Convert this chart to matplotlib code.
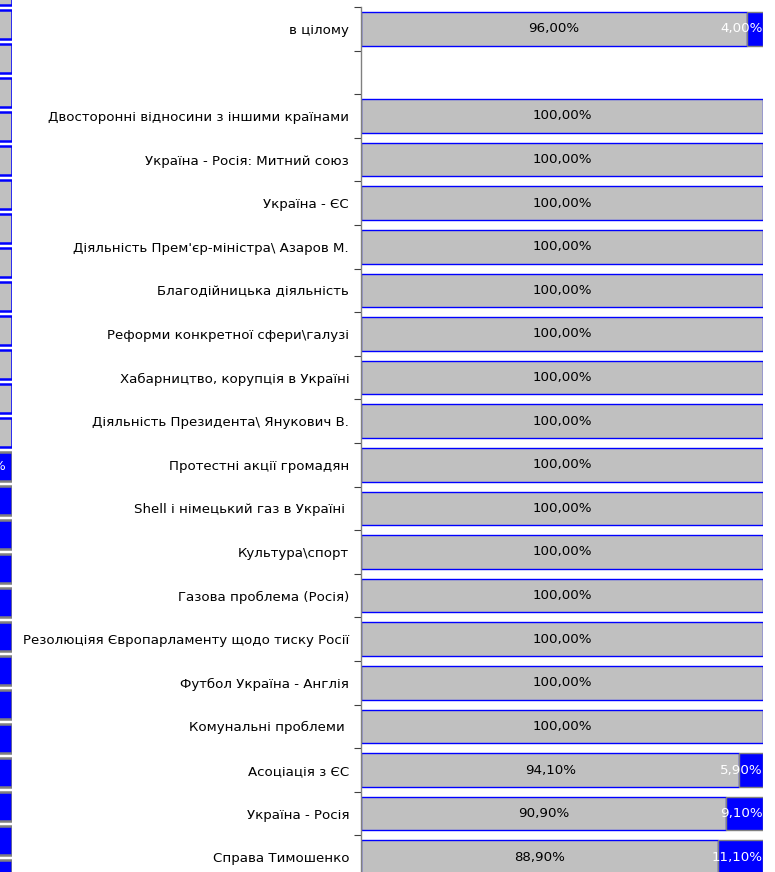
"""
Stacked horizontal bars: share of positive (grey) vs negative (blue) mentions per topic.
Left strip is the clipped right end of a neighbouring chart.
"""

import numpy as np
import matplotlib
matplotlib.use("Agg")
import matplotlib.pyplot as plt

plt.rcParams["font.family"] = ["DejaVu Sans"]

# ── data ─────────────────────────────────────────────────────────────────────
categories = [
    "в цілому",
    "",
    "Двосторонні відносини з іншими країнами",
    "Україна - Росія: Митний союз",
    "Україна - ЄС",
    "Діяльність Прем'єр-міністра\\ Азаров М.",
    "Благодійницька діяльність",
    "Реформи конкретної сфери\\галузі",
    "Хабарництво, корупція в Україні",
    "Діяльність Президента\\ Янукович В.",
    "Протестні акції громадян",
    "Shell і німецький газ в Україні ",
    "Культура\\спорт",
    "Газова проблема (Росія)",
    "Резолюціяя Європарламенту щодо тиску Росії",
    "Футбол Україна - Англія",
    "Комунальні проблеми ",
    "Асоціація з ЄС",
    "Україна - Росія",
    "Справа Тимошенко",
]
grey_vals = [96.0, np.nan] + [100.0] * 15 + [94.1, 90.9, 88.9]
blue_vals = [4.0, np.nan] + [0.0] * 15 + [5.9, 9.1, 11.1]

# neighbouring chart strip: 'g' = grey box, 'b' = blue box
strip_kinds = ["g"] * 14 + ["b"] * 13

GREY = "#C0C0C0"
BLUE = "#0000FF"
EDGE_GREY = "#808080"
LABEL_FS = 9.6
VALUE_FS = 9.6

W, H = 775, 872
fig = plt.figure(figsize=(W / 100, H / 100), dpi=100)

# ── main chart ───────────────────────────────────────────────────────────────
n = len(categories)
ax = fig.add_axes([361 / W, -7 / H, 402 / W, 872 / H])
y = np.arange(n)
grey = np.array(grey_vals)
blue = np.array(blue_vals)

ax.barh(y, grey, height=0.77, color=GREY, edgecolor=BLUE, linewidth=1.0)
ax.barh(y, np.where(blue > 0, blue, np.nan), left=grey, height=0.77,
        color=BLUE, edgecolor=EDGE_GREY, linewidth=1.0)

for yi, g, b in zip(y, grey, blue):
    if np.isnan(g):
        continue
    ax.text(g / 2, yi, f"{g:.2f}%".replace(".", ","), ha="center", va="center",
            fontsize=VALUE_FS, color="black")
    if b > 0:
        ax.text(g + b, yi, f"{b:.2f}%".replace(".", ","), ha="right", va="center",
                fontsize=VALUE_FS, color="white", clip_on=False)

ax.set_xlim(0, 100)
ax.set_ylim(n - 0.5, -0.5)
ax.set_yticks(y)
ax.set_yticklabels(categories, fontsize=LABEL_FS)
ax.set_yticks(np.arange(n + 1) - 0.5, minor=True)
ax.tick_params(axis="y", which="major", length=0, pad=8.5)
ax.tick_params(axis="y", which="minor", length=5, color="#404040", width=0.8)
ax.set_xticks([])
for side in ("top", "right", "bottom"):
    ax.spines[side].set_visible(False)
ax.spines["left"].set_color("#808080")
ax.spines["left"].set_linewidth(1.0)

# ── clipped strip of the neighbouring chart ──────────────────────────────────
m = len(strip_kinds)
sax = fig.add_axes([-20 / W, -19.5 / H, 32 / W, (m * 34) / H])
for k, kind in enumerate(strip_kinds):
    if kind == "g":
        sax.barh(k, 1, height=0.86, color=GREY, edgecolor=BLUE, linewidth=1.8)
    else:
        sax.barh(k, 1, height=0.86, color=BLUE, edgecolor=EDGE_GREY, linewidth=1.8)
sax.text(0.78, 14, "%", ha="right", va="center", fontsize=VALUE_FS, color="white")
sax.set_xlim(0, 1)
sax.set_ylim(m - 0.5, -0.5)
sax.axis("off")

fig.savefig("out.png", dpi=100)
